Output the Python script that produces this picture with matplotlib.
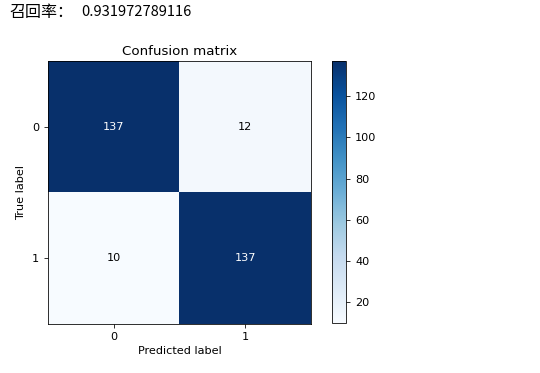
import matplotlib
matplotlib.use('Agg')
import matplotlib.pyplot as plt
import numpy as np

# confusion matrix values
classes = ['0', '1']
cm_row_0 = [137, 12]
cm_row_1 = [10, 137]
recall_label = '召回率：'
recall_value = '0.931972789116'

cm = np.array([cm_row_0, cm_row_1])

plt.rcParams['font.size'] = 11.2
plt.rcParams['axes.titlesize'] = 13.4
plt.rcParams['xtick.major.size'] = 4
plt.rcParams['ytick.major.size'] = 4
plt.rcParams['ytick.major.pad'] = 5

fig = plt.figure(figsize=(7.5, 373 / 72), dpi=72)

# printed output line above the chart
fig.text(9 / 540, 1 - 12 / 373, recall_label, family=['Noto Sans CJK SC', 'DejaVu Sans'],
         fontsize=16, va='center', ha='left')
fig.text(81 / 540, 1 - 12 / 373, recall_value, family=['Noto Sans CJK SC', 'DejaVu Sans'],
         fontsize=14.7, va='center', ha='left')

ax = fig.add_axes([48 / 540, 49 / 373, 263 / 540, 263 / 373])
im = ax.imshow(cm, interpolation='nearest', cmap=plt.cm.Blues)
ax.set_title('Confusion matrix')

tick_marks = np.arange(len(classes))
ax.set_xticks(tick_marks)
ax.set_xticklabels(classes)
ax.set_yticks(tick_marks)
ax.set_yticklabels(classes)

thresh = cm.max() / 2.
for i in range(cm.shape[0]):
    for j in range(cm.shape[1]):
        ax.text(j, i, cm[i, j], ha='center', va='center',
                color='white' if cm[i, j] > thresh else 'black')

ax.set_ylabel('True label', labelpad=6)
ax.set_xlabel('Predicted label')

cax = fig.add_axes([332 / 540, 50 / 373, 14 / 540, 262 / 373])
fig.colorbar(im, cax=cax)

fig.savefig('out.png', dpi=72)
